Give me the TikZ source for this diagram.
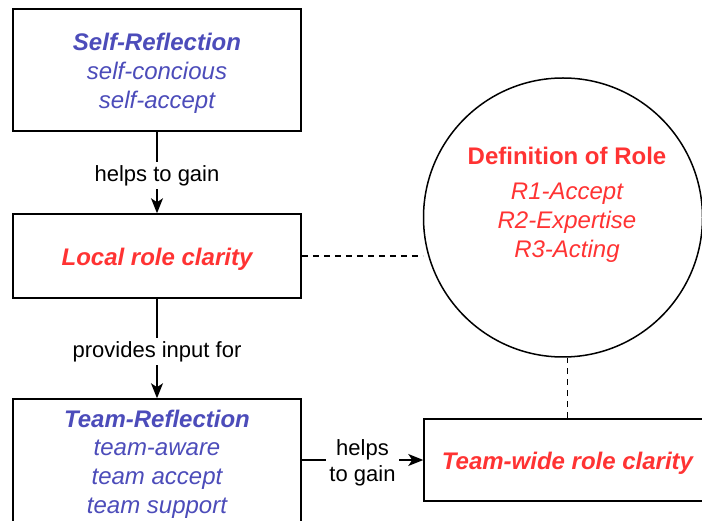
\documentclass[tikz,border=0pt]{standalone}
\usepackage{fontspec}
\setmainfont{Liberation Sans}
\usetikzlibrary{arrows.meta,positioning}
\definecolor{myblue}{RGB}{76,76,186}
\definecolor{myred}{RGB}{255,51,51}
\tikzset{
  box/.style={draw=black, line width=1.5pt, fill=white, minimum width=288pt, inner sep=0pt},
  boxtext/.style={inner sep=0pt, align=center, font=\fontsize{24}{28.8}\selectfont\itshape},
  bluetext/.style={text=myblue},
  redtext/.style={text=myred},
  conn/.style={line width=1.5pt, -{Stealth[length=15pt,width=12pt,inset=4pt]}},
  dashconn/.style={line width=1.5pt, dash pattern=on 6pt off 5pt},
  lbl/.style={fill=white, inner sep=3pt, align=center, yshift=-3pt, font=\fontsize{22}{26.4}\selectfont},
}
\begin{document}
\begin{tikzpicture}[x=1pt,y=-1pt]
\useasboundingbox (0,0) rectangle (702,521);
\clip (0,0) rectangle (702,521);
\fill[white] (0,0) rectangle (702,521);
\node[box,minimum height=122pt] (self) at (157,70) {};
\node[boxtext,bluetext] (selft) at (157,73.5) {\textbf{Self-Reflection}\\self-concious\\self-accept};
\node[box,minimum height=84pt] (loc) at (157,256) {};
\node[boxtext,redtext] (loct) at (157,259.5) {\textbf{Local role clarity}};
\node[box,minimum height=124pt] (team) at (157,461) {};
\node[boxtext,bluetext] (teamt) at (157,464) {\textbf{Team-Reflection}\\team-aware\\team accept\\team support};
\node[box,minimum width=287pt,minimum height=82pt] (tw) at (567.5,460) {};
\node[boxtext,redtext] (twt) at (567.5,463.5) {\textbf{Team-wide role clarity}};
\node[draw=black, line width=1.5pt, circle, minimum size=279pt, inner sep=0pt] (circ) at (563,217.5) {};
\node[redtext, align=center, inner sep=0pt, font=\fontsize{24}{29}\selectfont] (deftext) at (567,205) {\textbf{Definition of Role}\\[6pt]\itshape R1-Accept\\\itshape R2-Expertise\\\itshape R3-Acting};
\draw[conn] (self.south) -- node[lbl] (l1) {helps to gain} (loc.north);
\draw[conn] (loc.south) -- node[lbl] (l2) {provides input for} (team.north);
\draw[conn] (team.east |- tw.west) -- node[lbl] (l3) {helps\\to gain} (tw.west);
\draw[dashconn] (loc.east) -- (loc.east -| circ.west);
\draw[dashconn] (tw.north) -- (tw.north |- circ.south);
\end{tikzpicture}
\end{document}
